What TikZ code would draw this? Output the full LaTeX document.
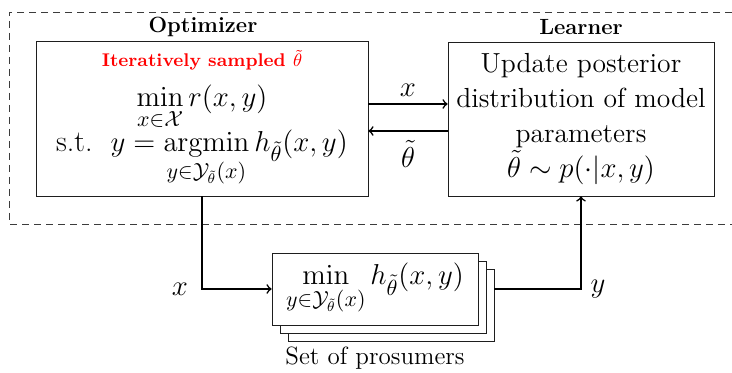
\documentclass[tikz,border=0pt]{standalone}
\usepackage{amsmath,amssymb}
\usetikzlibrary{shadows}
\definecolor{sampleRed}{RGB}{255,0,0}
\definecolor{boxEdge}{RGB}{30,30,30}
\definecolor{frameEdge}{RGB}{60,60,60}

\begin{document}
\begin{tikzpicture}[x=1pt,y=1pt,
  blockbox/.style={draw=boxEdge,fill=white,align=center,inner sep=0pt,
    font=\fontsize{13.8}{17.5}\selectfont},
  flow/.style={->,thick},
  caption/.style={font=\fontsize{11}{12}\selectfont\bfseries},
  plain/.style={font=\fontsize{15}{18}\selectfont}]
  \useasboundingbox (0,0) rectangle (366,186.5);

  % dashed frame
  \draw[frameEdge,dash pattern=on 3.5pt off 2.5pt]
    (372,180.5) -- (4.5,180.5) -- (4.5,74.5) -- (372,74.5);

  % optimizer
  \node[caption] (optTitle) at (101.5,173) {Optimizer};
  \node[blockbox,minimum width=166,minimum height=77.5,font=\fontsize{15}{17}\selectfont] (opt) at (101,127.25)
    {\textcolor{sampleRed}{\fontsize{9.2}{10}\selectfont\bfseries Iteratively sampled $\tilde{\theta}$}\\[3pt]
     $\displaystyle\min_{x\in\mathcal{X}} r(x,y)$\\[-1.5pt]
     s.t.\hspace{9pt}$y=\displaystyle\operatorname*{argmin}_{y\in\mathcal{Y}_{\tilde{\theta}}(x)} h_{\tilde{\theta}}(x,y)$};

  % learner
  \node[caption] (lrnTitle) at (290.5,173) {Learner};
  \node[blockbox,minimum width=133,minimum height=77] (lrn) at (290.5,127)
    {Update posterior\\distribution of model\\parameters\\$\tilde{\theta}\sim p(\cdot|x,y)$};

  % exchange
  \draw[flow] ([yshift=7.25pt]opt.east) -- node[plain,above=0pt] (xTop) {$x$} ([yshift=7.5pt]lrn.west);
  \draw[flow] ([yshift=-6pt]lrn.west) -- node[plain,below=1pt] (thTop) {$\tilde{\theta}$} ([yshift=-6.25pt]opt.east);

  % prosumers
  \node[blockbox,minimum width=103,minimum height=36,font=\fontsize{15}{18}\selectfont,
    double copy shadow={shadow xshift=4pt,shadow yshift=-4pt}] (pros) at (187.5,42)
    {$\min\limits_{y\in\mathcal{Y}_{\tilde{\theta}}(x)} h_{\tilde{\theta}}(x,y)$};
  \node[font=\fontsize{12.5}{15}\selectfont] (prosCap) at (187.5,7.5) {Set of prosumers};

  % loop
  \node[plain] (xIn) at (90,42) {$x$};
  \node[plain] (yOut) at (299,42) {$y$};
  \draw[flow] (opt.south) |- (pros.west);
  \draw[flow] ([xshift=8pt]pros.east) -| (lrn.south);
\end{tikzpicture}
\end{document}
